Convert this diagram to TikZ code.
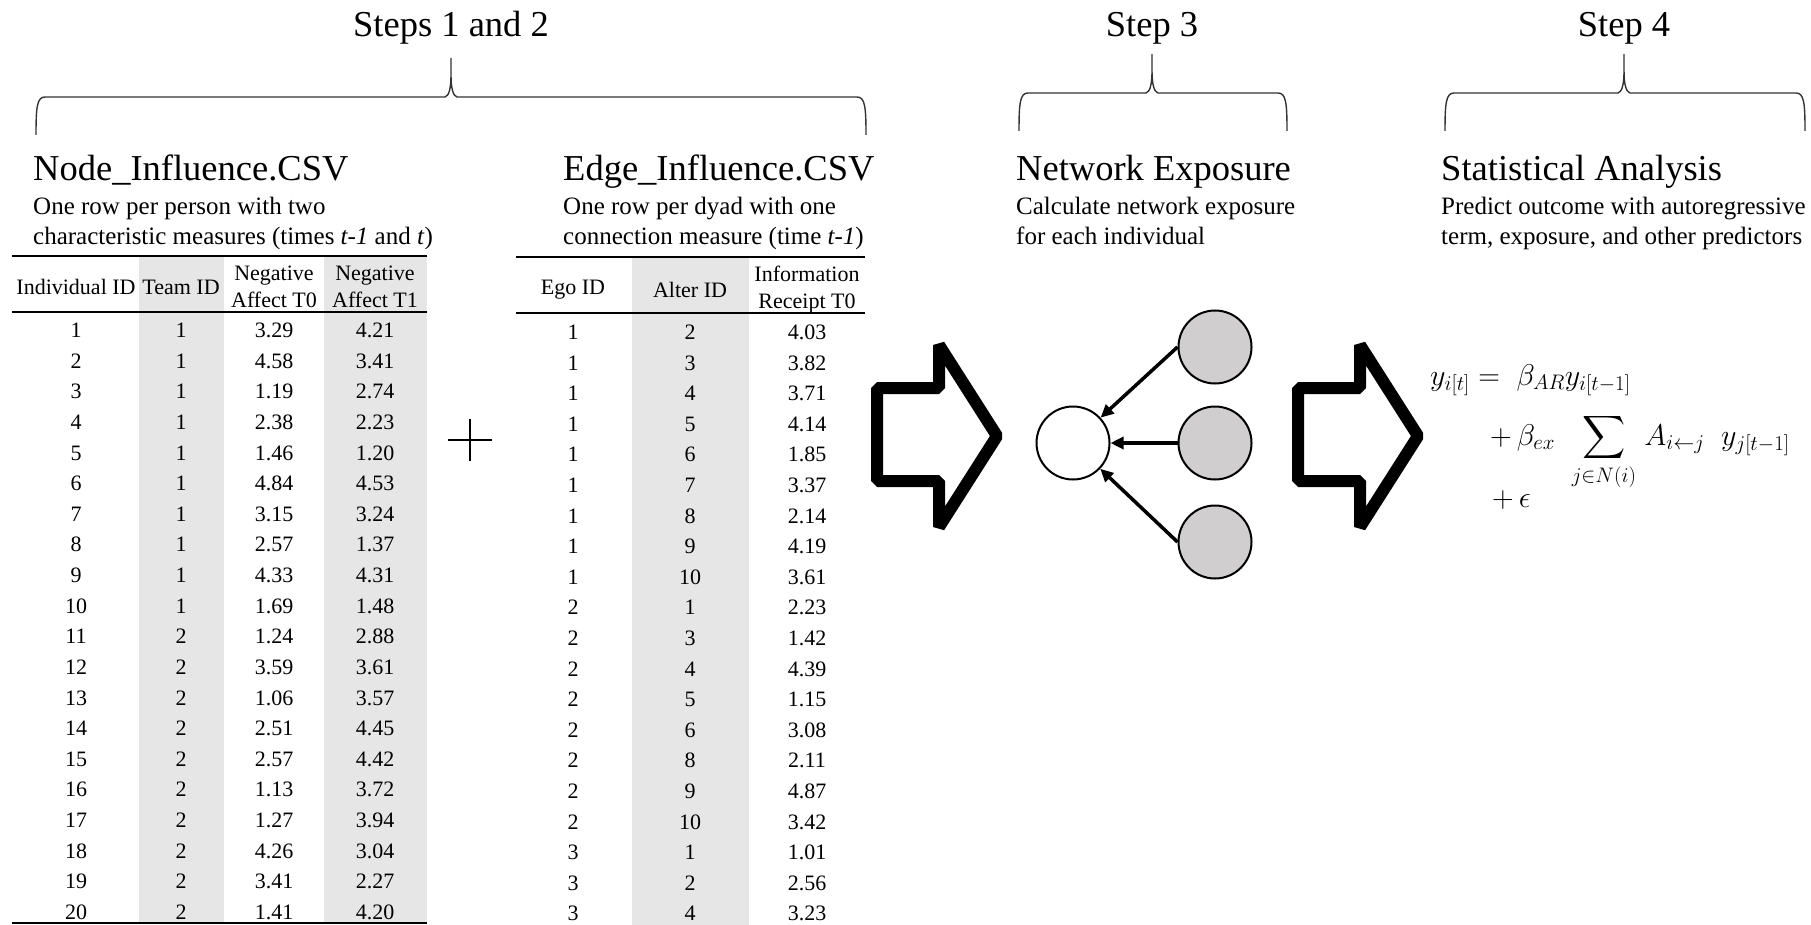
\documentclass[tikz,border=0pt]{standalone}
\usepackage{fix-cm}
\usepackage{fontspec}
\setmainfont{Liberation Serif}
\usepackage{amsmath, amssymb}
\usepackage{xcolor}
\usepackage{tikz}
\usetikzlibrary{arrows.meta, positioning}

\definecolor{colshade}{HTML}{E6E6E6}
\definecolor{alterfill}{HTML}{D0CECE}

\begin{document}
\begin{tikzpicture}[x=1pt, y=-1pt, >={Triangle[length=13pt, width=12pt]},
    steptitle/.style={font=\fontsize{36.5}{44}\selectfont, anchor=base, inner sep=0pt},
    filetitle/.style={font=\fontsize{36.5}{44}\selectfont, anchor=base west, inner sep=0pt},
    subtext/.style={font=\fontsize{25}{29}\selectfont, anchor=base west, inner sep=0pt},
    cell/.style={font=\fontsize{22}{26}\selectfont, inner sep=0pt, text height=15pt, text depth=0pt},
    headcell/.style={font=\fontsize{22}{27}\selectfont, inner sep=0pt, align=center},
    rule/.style={line width=2.5pt},
    bigarrow/.style={line width=12pt, line join=bevel},
    brace/.style={line width=1.4pt, black!80},
    person/.style={circle, draw, line width=2pt, minimum size=73pt, inner sep=0pt},
    tie/.style={->, line width=3.5pt},
    eqline/.style={font=\fontsize{30}{36}\selectfont, anchor=base west, inner sep=0pt}]
            \useasboundingbox (0,0) rectangle (1811,925);
            \fill[white] (0,0) rectangle (1811,925);

            % Tiêu đề các bước
            \node[steptitle] (step12) at (451,37) {Steps 1 and 2};
            \node[steptitle] (step3) at (1152,37) {Step 3};
            \node[steptitle] (step4) at (1624,37) {Step 4};

            % Dấu ngoặc nhọn dưới mỗi bước
            \foreach \bl/\bm/\br/\bh in {36/451/866/97, 1019/1152/1287/93, 1445/1624/1805/93}
                \draw[brace] (\bl,\bh+38) .. controls (\bl,\bh+10) and (\bl+1,\bh) .. (\bl+9,\bh)
                    -- (\bm-6,\bh) .. controls (\bm-2,\bh-1) and (\bm,\bh-9) .. (\bm,\bh-22)
                    -- (\bm,\bh-39) -- (\bm,\bh-22)
                    .. controls (\bm,\bh-9) and (\bm+2,\bh-1) .. (\bm+6,\bh)
                    -- (\br-9,\bh) .. controls (\br-1,\bh) and (\br,\bh+10) .. (\br,\bh+38);

            % Tên tệp và mô tả
            \node[filetitle] (nodecsv) at (33,181) {Node\_Influence.CSV};
            \node[subtext] (nodesub1) at (33,215) {One row per person with two};
            \node[subtext] (nodesub2) at (33,244) {characteristic measures (times \textit{t-1} and \textit{t})};
            \node[filetitle] (edgecsv) at (563,181) {Edge\_Influence.CSV};
            \node[subtext] (edgesub1) at (563,215) {One row per dyad with one};
            \node[subtext] (edgesub2) at (563,244) {connection measure (time \textit{t-1})};
            \node[filetitle] (exptitle) at (1016,181) {Network Exposure};
            \node[subtext] (expsub1) at (1016,215) {Calculate network exposure};
            \node[subtext] (expsub2) at (1016,244) {for each individual};
            \node[filetitle] (stattitle) at (1441,181) {Statistical Analysis};
            \node[subtext] (statsub1) at (1441,215) {Predict outcome with autoregressive};
            \node[subtext] (statsub2) at (1441,244) {term, exposure, and other predictors};

            % Bảng thứ nhất: cột tô xám và các đường kẻ
            \fill[colshade] (139,256) rectangle (224,923);
            \fill[colshade] (324,256) rectangle (427,923);
            \draw[rule] (12,256) -- (427,256);
            \draw[rule] (12,312) -- (427,312);
            \draw[rule] (12,923) -- (427,923);
            \node[headcell] (hind) at (76,287) {Individual ID};
            \node[headcell] (hteam) at (181,287) {Team ID};
            \node[headcell] (hna0) at (274,287) {Negative\\Affect T0};
            \node[headcell] (hna1) at (375,287) {Negative\\Affect T1};
            \foreach \pid/\tid/\nat/\nbt [count=\r] in {1/1/3.29/4.21, 2/1/4.58/3.41, 3/1/1.19/2.74,
                    4/1/2.38/2.23, 5/1/1.46/1.20, 6/1/4.84/4.53, 7/1/3.15/3.24, 8/1/2.57/1.37,
                    9/1/4.33/4.31, 10/1/1.69/1.48, 11/2/1.24/2.88, 12/2/3.59/3.61, 13/2/1.06/3.57,
                    14/2/2.51/4.45, 15/2/2.57/4.42, 16/2/1.13/3.72, 17/2/1.27/3.94, 18/2/4.26/3.04,
                    19/2/3.41/2.27, 20/2/1.41/4.20} {
                \node[cell] (pid\r) at (76,{330+(\r-1)*30.63}) {\pid};
                \node[cell] (tid\r) at (181,{330+(\r-1)*30.63}) {\tid};
                \node[cell] (na\r) at (274,{330+(\r-1)*30.63}) {\nat};
                \node[cell] (nb\r) at (375,{330+(\r-1)*30.63}) {\nbt};
            }

            % Dấu cộng giữa hai bảng
            \draw[line width=2.2pt] (448,440) -- (492,440) (470,419) -- (470,461);

            % Bảng thứ hai
            \fill[colshade] (632,257) rectangle (749,925);
            \draw[rule] (516,257) -- (865,257);
            \draw[rule] (516,313) -- (865,313);
            \node[headcell] (hego) at (573,290) {Ego ID};
            \node[headcell] (halter) at (690,290) {Alter ID};
            \node[headcell] (hinfo) at (807,290) {Information\\Receipt T0};
            \foreach \ego/\alter/\info [count=\r] in {1/2/4.03, 1/3/3.82, 1/4/3.71, 1/5/4.14,
                    1/6/1.85, 1/7/3.37, 1/8/2.14, 1/9/4.19, 1/10/3.61, 2/1/2.23, 2/3/1.42,
                    2/4/4.39, 2/5/1.15, 2/6/3.08, 2/8/2.11, 2/9/4.87, 2/10/3.42, 3/1/1.01,
                    3/2/2.56, 3/4/3.23} {
                \node[cell] (ego\r) at (573,{332+(\r-1)*30.6}) {\ego};
                \node[cell] (alter\r) at (690,{332+(\r-1)*30.6}) {\alter};
                \node[cell] (info\r) at (807,{332+(\r-1)*30.6}) {\info};
            }

            % Hai mũi tên lớn
            \foreach \dx in {0,421}
                \draw[bigarrow] ({877+\dx},388) -- ({939+\dx},388) -- ({939+\dx},345)
                    -- ({997+\dx},436) -- ({939+\dx},527) -- ({939+\dx},481)
                    -- ({877+\dx},481) -- cycle;

            % Mạng lưới: cá nhân và các đối tượng
            \node[person, fill=white] (ego) at (1073,443) {};
            \node[person, fill=alterfill] (alt1) at (1215,347) {};
            \node[person, fill=alterfill] (alt2) at (1215,443) {};
            \node[person, fill=alterfill] (alt3) at (1215,542) {};
            \draw[tie] (alt1.west) -- (ego);
            \draw[tie] (alt2.west) -- (ego);
            \draw[tie] (alt3.west) -- (ego);

            % Phương trình hồi quy
            \node[eqline] (eq1) at (1430,385) {$y_{i[t]} =\; \beta_{AR}y_{i[t-1]}$};
            \node[eqline] (eq2) at (1490,445) {$+\,\beta_{ex}\;\;\smash{\displaystyle\sum_{j\in N(i)}}\;A_{i\leftarrow j}\;\;y_{j[t-1]}$};
            \node[eqline] (eq3) at (1492,507) {$+\,\epsilon$};
        \end{tikzpicture}
\end{document}
